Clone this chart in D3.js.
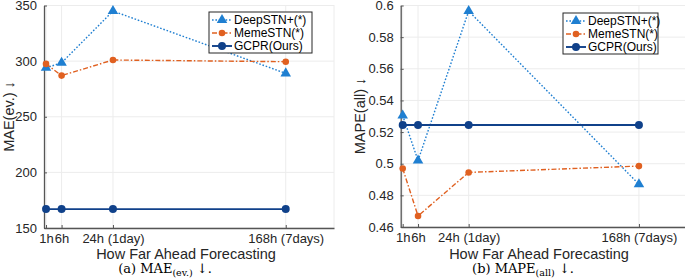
<!DOCTYPE html>
<html>
<head>
<meta charset="utf-8">
<script src="https://cdn.jsdelivr.net/npm/d3@7"></script>
<style>
  body { margin: 0; background: #fff; }
  svg { display: block; }
  .tick text { font-family: "Liberation Sans", Arial, sans-serif; }
</style>
</head>
<body>
<script>
// horizons (x positions follow the original, non-linear spacing)
var horizons = ["1h", "6h", "24h (1day)", "168h (7days)"];
var xPos = [0, 1, 4.3, 15.4];

var seriesNames = ["DeepSTN+(*)", "MemeSTN(*)", "GCPR(Ours)"];

// MAE(ev.)
var maeDeep = [294, 298.5, 345, 289];
var maeMeme = [297.5, 287, 301, 299.5];
var maeGcpr = [167, 167, 167, 167];
var maeTicks = [150, 200, 250, 300, 350];

// MAPE(all)
var mapeDeep = [0.5305, 0.502, 0.5965, 0.487];
var mapeMeme = [0.497, 0.467, 0.4945, 0.4985];
var mapeGcpr = [0.5245, 0.5245, 0.5245, 0.5245];
var mapeTicks = [0.46, 0.48, 0.5, 0.52, 0.54, 0.56, 0.58, 0.6];

var colors = ["#1f7fd1", "#e06020", "#10418a"];

var W = 685, H = 280;
var svg = d3.select("body").append("svg")
  .attr("width", W)
  .attr("height", H);

function panel(opt) {
  var x = d3.scaleLinear().domain([-0.13, 18.5]).range(opt.xr);
  var y = d3.scaleLinear().domain(opt.yd).range([opt.yBottom, 5.5]);
  var g = svg.append("g");

  // grid
  g.append("g").selectAll("line").data(opt.yTicks).enter().append("line")
    .attr("x1", opt.xr[0]).attr("x2", opt.xr[1])
    .attr("y1", function(d) { return y(d); }).attr("y2", function(d) { return y(d); })
    .attr("stroke", "#ececec").attr("stroke-width", 1);
  g.append("g").selectAll("line").data(xPos.concat([18.5])).enter().append("line")
    .attr("x1", function(d) { return x(d); }).attr("x2", function(d) { return x(d); })
    .attr("y1", 5).attr("y2", opt.yBottom)
    .attr("stroke", "#ececec").attr("stroke-width", 1);

  // axes
  var yAxis = d3.axisLeft(y).tickValues(opt.yTicks).tickSizeInner(-3).tickSizeOuter(0)
    .tickPadding(7).tickFormat(opt.fmt);
  g.append("g").attr("transform", "translate(" + opt.xr[0] + ",0)").call(yAxis)
    .call(function(a) {
      a.select(".domain").attr("stroke", "#555").attr("stroke-width", 1.3);
      a.selectAll(".tick line").attr("stroke", "#555");
      a.selectAll(".tick text").attr("font-size", "13px").attr("fill", "#262626");
    });

  var xAxis = d3.axisBottom(x).tickValues(xPos).tickSizeInner(-3).tickSizeOuter(0)
    .tickPadding(6).tickFormat(function(d, i) { return horizons[i]; });
  g.append("g").attr("transform", "translate(0," + opt.yBottom + ")").call(xAxis)
    .call(function(a) {
      a.select(".domain").attr("stroke", "#555").attr("stroke-width", 1.3);
      a.selectAll(".tick line").attr("stroke", "#555");
      a.selectAll(".tick text").attr("font-size", "13px").attr("fill", "#262626");
    });

  // axis titles
  g.append("text")
    .attr("x", opt.titleX).attr("y", 258.5)
    .attr("text-anchor", "middle")
    .attr("font-family", "Liberation Sans, Arial, sans-serif")
    .attr("font-size", "14.5px").attr("fill", "#262626")
    .text("How Far Ahead Forecasting");

  g.append("text")
    .attr("transform", "translate(" + opt.ylabX + "," + ((5 + opt.yBottom) / 2) + ") rotate(-90)")
    .attr("text-anchor", "middle")
    .attr("font-family", "Liberation Sans, Arial, sans-serif")
    .attr("font-size", "14.5px").attr("fill", "#262626")
    .text(opt.ylabel);

  // caption
  var cap = g.append("text")
    .attr("x", opt.capX).attr("y", 273)
    .attr("text-anchor", "middle")
    .attr("font-family", "DejaVu Serif, serif")
    .attr("font-size", "13px").attr("fill", "#000");
  cap.append("tspan").text(opt.capPre + "  " + opt.capMain);
  cap.append("tspan").attr("dy", 3).attr("font-size", "9.5px").text(opt.capSub);
  cap.append("tspan").attr("dy", -3).text(" \u2193.");

  // series
  var data = [opt.deep, opt.meme, opt.gcpr];
  var dashes = ["1.6,1.8", "5,2,1.5,2", null];
  var widths = [1.4, 1.4, 1.9];

  data.forEach(function(vals, s) {
    var line = d3.line()
      .x(function(d, i) { return x(xPos[i]); })
      .y(function(d) { return y(d); });
    g.append("path").datum(vals)
      .attr("d", line)
      .attr("fill", "none")
      .attr("stroke", colors[s])
      .attr("stroke-width", widths[s])
      .attr("stroke-dasharray", dashes[s]);
  });

  data.forEach(function(vals, s) {
    g.append("g").selectAll("path").data(vals).enter().append("path")
      .attr("transform", function(d, i) { return "translate(" + x(xPos[i]) + "," + y(d) + ")"; })
      .attr("d", marker(s))
      .attr("fill", colors[s]);
  });

  // legend
  var lg = g.append("g").attr("transform", "translate(" + opt.legX + "," + opt.legY + ")");
  lg.append("rect").attr("x", 0).attr("y", 0)
    .attr("width", opt.legW).attr("height", 41)
    .attr("fill", "#fff").attr("stroke", "#262626").attr("stroke-width", 1);
  seriesNames.forEach(function(name, s) {
    var cy = 8 + s * 13;
    lg.append("line").attr("x1", 3).attr("x2", 23).attr("y1", cy).attr("y2", cy)
      .attr("stroke", colors[s]).attr("stroke-width", widths[s])
      .attr("stroke-dasharray", dashes[s]);
    lg.append("path").attr("transform", "translate(13," + cy + ")")
      .attr("d", marker(s)).attr("fill", colors[s]);
    lg.append("text").attr("x", 25).attr("y", cy + 4.3)
      .attr("font-family", "Liberation Sans, Arial, sans-serif")
      .attr("font-size", "12px").attr("fill", "#000")
      .text(name);
  });
}

function marker(s) {
  if (s === 0) return d3.symbol().type(d3.symbolTriangle).size(48)();
  if (s === 1) return d3.symbol().type(d3.symbolCircle).size(34)();
  return d3.symbol().type(d3.symbolCircle).size(50)();
}

panel({
  xr: [44, 334], yd: [150, 350], yBottom: 228, yTicks: maeTicks,
  fmt: d3.format("d"), titleX: 186, capX: 165, ylabX: 14, ylabel: "MAE(ev.) \u2193",
  capPre: "(a)", capMain: "MAE", capSub: "(ev.)",
  deep: maeDeep, meme: maeMeme, gcpr: maeGcpr,
  legX: 209, legY: 12, legW: 103
});

panel({
  xr: [400.7, 686.5], yd: [0.46, 0.6], yBottom: 227, yTicks: mapeTicks,
  fmt: function(d) { return d3.format("")(+d.toFixed(2)); }, titleX: 539, capX: 523, ylabX: 365, ylabel: "MAPE(all) \u2193",
  capPre: "(b)", capMain: "MAPE", capSub: "(all)",
  deep: mapeDeep, meme: mapeMeme, gcpr: mapeGcpr,
  legX: 563, legY: 13, legW: 95
});
</script>
</body>
</html>
